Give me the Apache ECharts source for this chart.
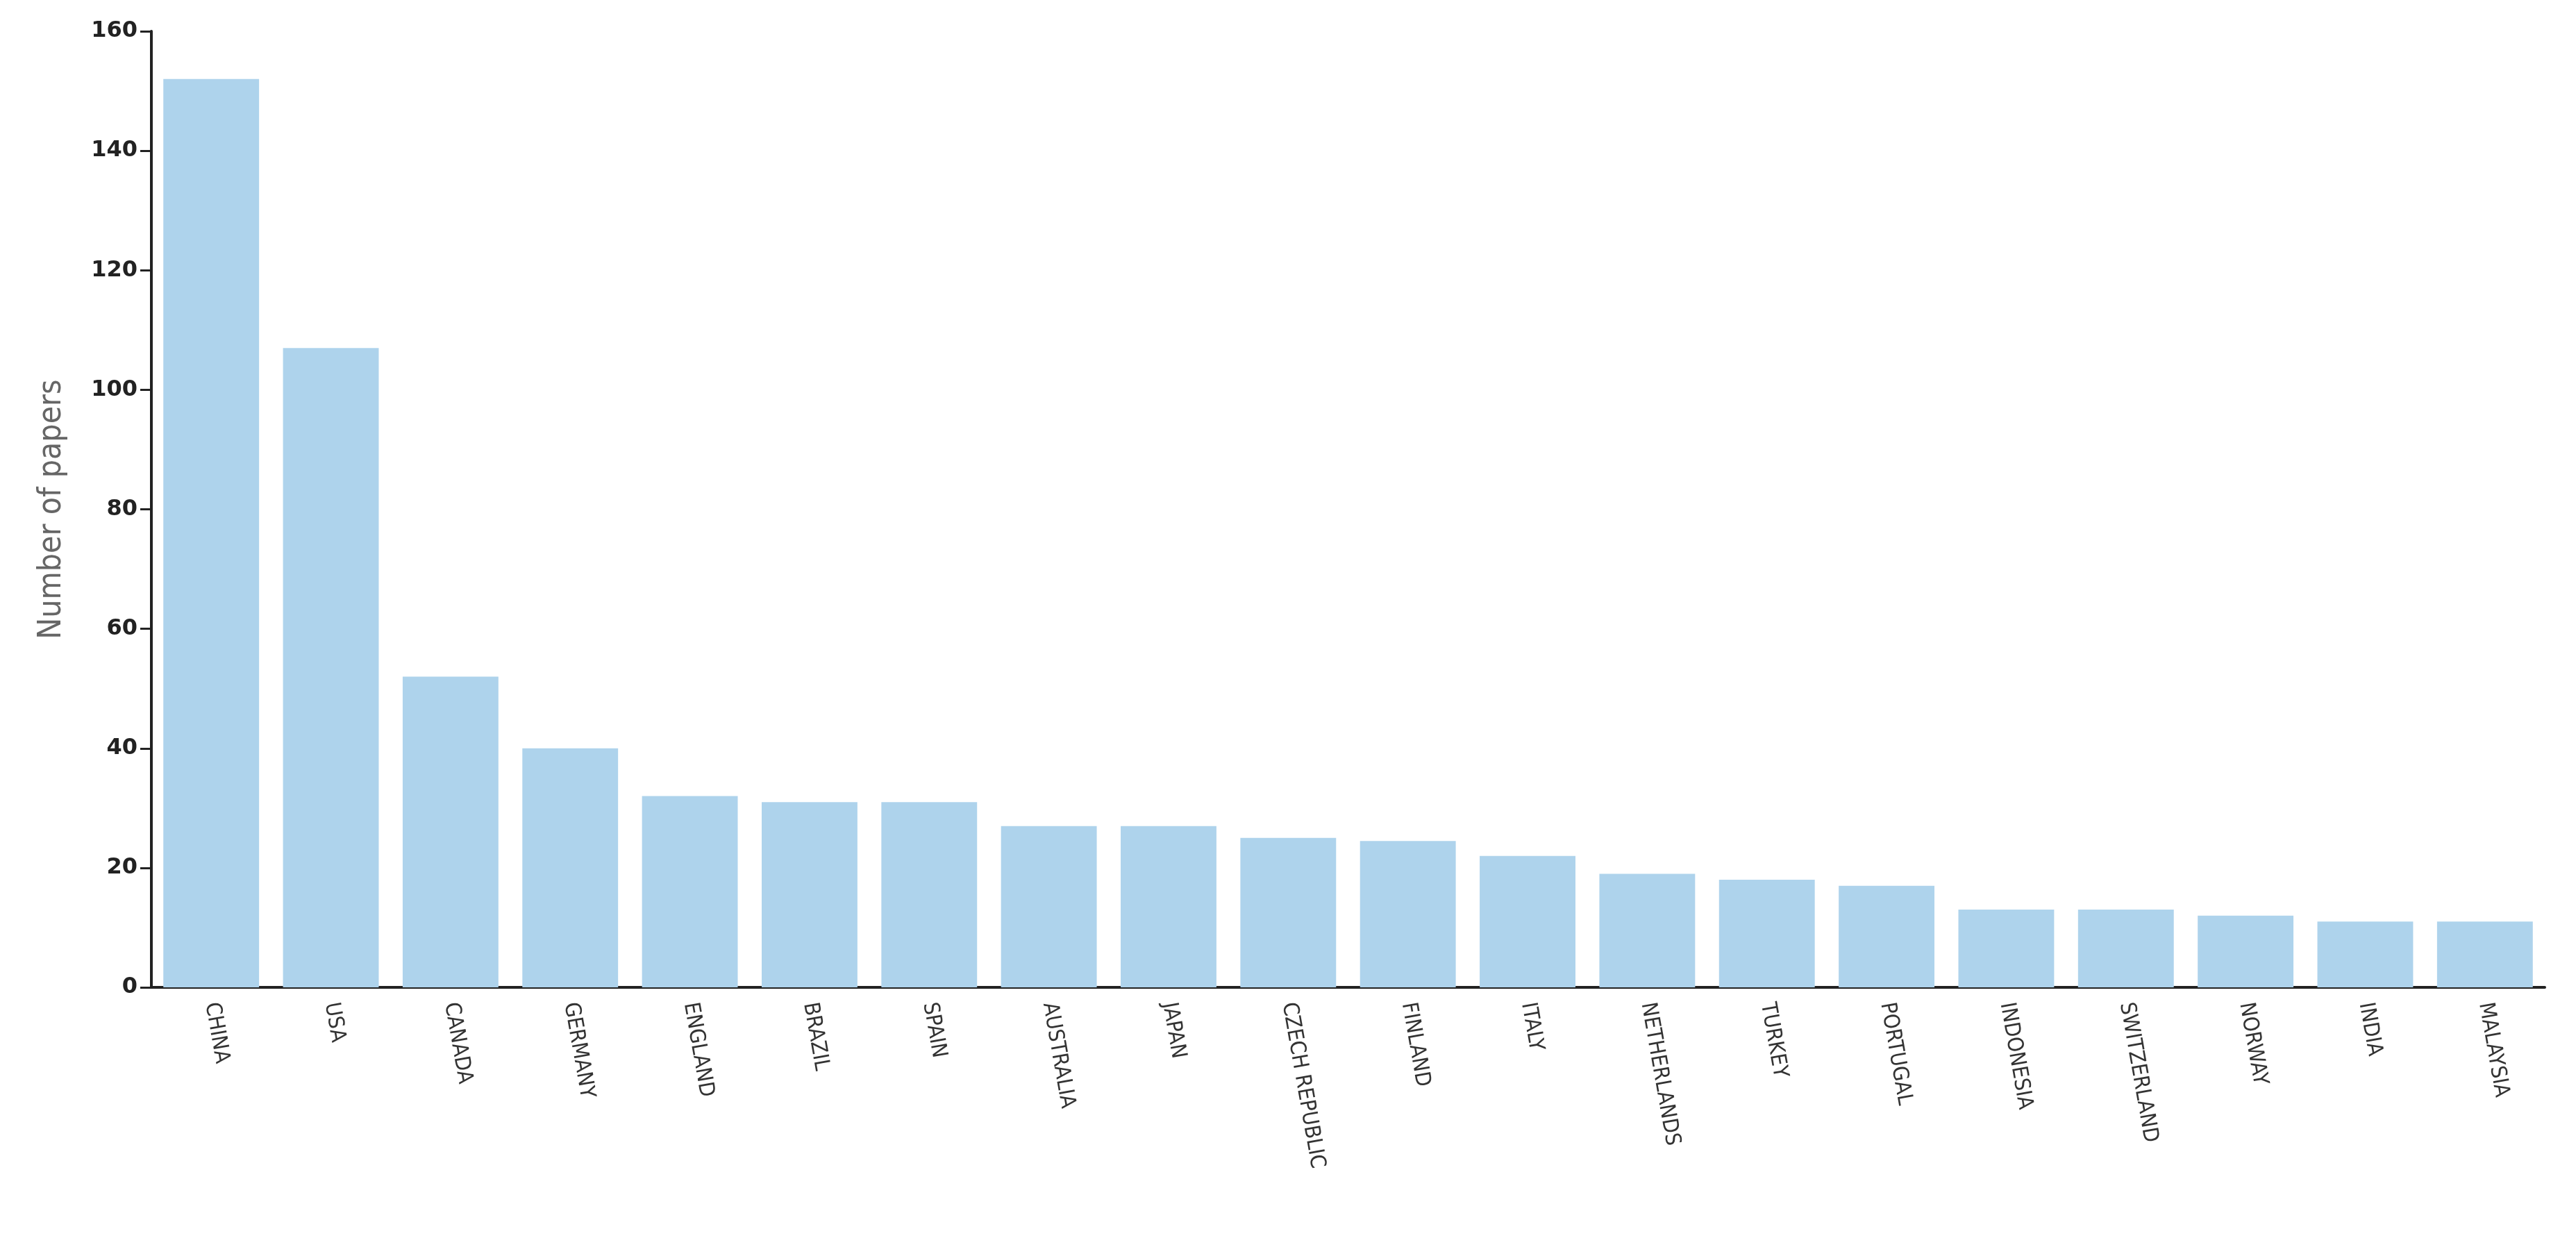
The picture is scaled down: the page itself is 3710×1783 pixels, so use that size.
<!DOCTYPE html>
<html><head><meta charset="utf-8">
<script src="https://cdn.jsdelivr.net/npm/echarts@6/dist/echarts.min.js"></script>
<style>html,body{margin:0;padding:0;background:#fff}#c{width:3710px;height:1783px}</style>
</head><body><div id="c"></div>
<script>
const categories = ["CHINA","USA","CANADA","GERMANY","ENGLAND","BRAZIL","SPAIN","AUSTRALIA","JAPAN","CZECH REPUBLIC","FINLAND","ITALY","NETHERLANDS","TURKEY","PORTUGAL","INDONESIA","SWITZERLAND","NORWAY","INDIA","MALAYSIA"];
const papers = [152,107,52,40,32,31,31,27,27,25,24.5,22,19,18,17,13,13,12,11,11];
const yTicks = [0,20,40,60,80,100,120,140,160];
const chart = echarts.init(document.getElementById('c'));
chart.setOption({
  animation:false,
  grid:{left:218,right:45,top:45,bottom:361},
  xAxis:{type:'category',data:categories,boundaryGap:true,
    axisLine:{lineStyle:{color:'#222',width:4}},
    axisTick:{alignWithLabel:true,length:16,lineStyle:{color:'#222',width:4}},
    axisLabel:{rotate:-80,margin:22,fontSize:31,color:'#333',fontFamily:'DejaVu Sans Condensed',align:'left',verticalAlign:'middle'}},
  yAxis:{type:'value',min:yTicks[0],max:yTicks[yTicks.length-1],interval:20,
    name:'Number of papers',nameLocation:'middle',nameGap:120,
    nameTextStyle:{fontSize:46,color:'#666',fontFamily:'DejaVu Sans Condensed'},
    axisLine:{show:true,lineStyle:{color:'#222',width:4}},
    axisTick:{show:true,length:16,lineStyle:{color:'#222',width:3}},
    splitLine:{show:false},
    axisLabel:{fontSize:32,fontWeight:'bold',color:'#222',margin:20,fontFamily:'DejaVu Sans'}},
  series:[{type:'bar',data:papers,barCategoryGap:'20%',itemStyle:{color:'#AED3EC'}}]
});
</script></body></html>
